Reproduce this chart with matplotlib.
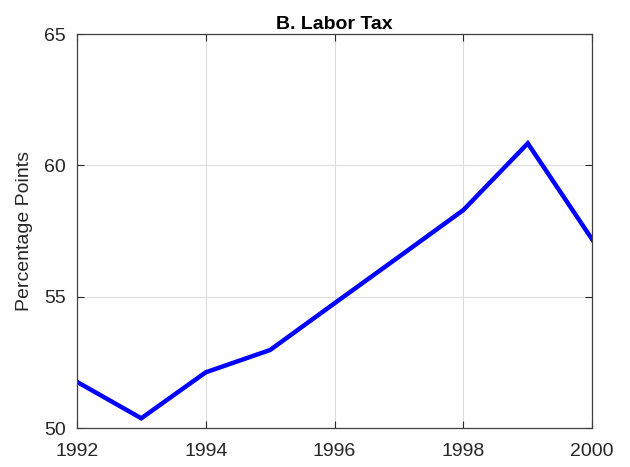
import matplotlib
matplotlib.use('Agg')
import matplotlib.pyplot as plt

years = [1992, 1993, 1994, 1995, 1996, 1997, 1998, 1999, 2000]
labor_tax = [51.76, 50.37, 52.12, 52.97, 54.75, 56.52, 58.3, 60.84, 57.18]

plt.rcParams['font.family'] = ['Liberation Sans', 'DejaVu Sans']

fig = plt.figure(figsize=(6.3, 4.67), dpi=100)
ax = fig.add_axes([0.122, 0.0835, 0.818, 0.8435])

ax.plot(years, labor_tax, color='#0000ff', linewidth=3.2, solid_joinstyle='miter')

ax.set_xlim(1992, 2000)
ax.set_ylim(50, 65)
ax.set_xticks([1992, 1994, 1996, 1998, 2000])
ax.set_yticks([50, 55, 60, 65])
ax.grid(True, color='#dcdcdc', linewidth=0.8)
ax.set_axisbelow(True)

ax.tick_params(direction='in', top=True, right=True, length=5, width=0.8,
               labelsize=14, colors='#262626')
ax.tick_params(axis='x', pad=11)
ax.tick_params(axis='y', pad=8)
for s in ax.spines.values():
    s.set_color('#404040')
    s.set_linewidth(0.9)

ax.set_ylabel('Percentage Points', fontsize=14, color='#262626', labelpad=8)
ax.set_title('B. Labor Tax', fontsize=14, fontweight='bold', pad=4)

fig.savefig('out.png', dpi=100)
